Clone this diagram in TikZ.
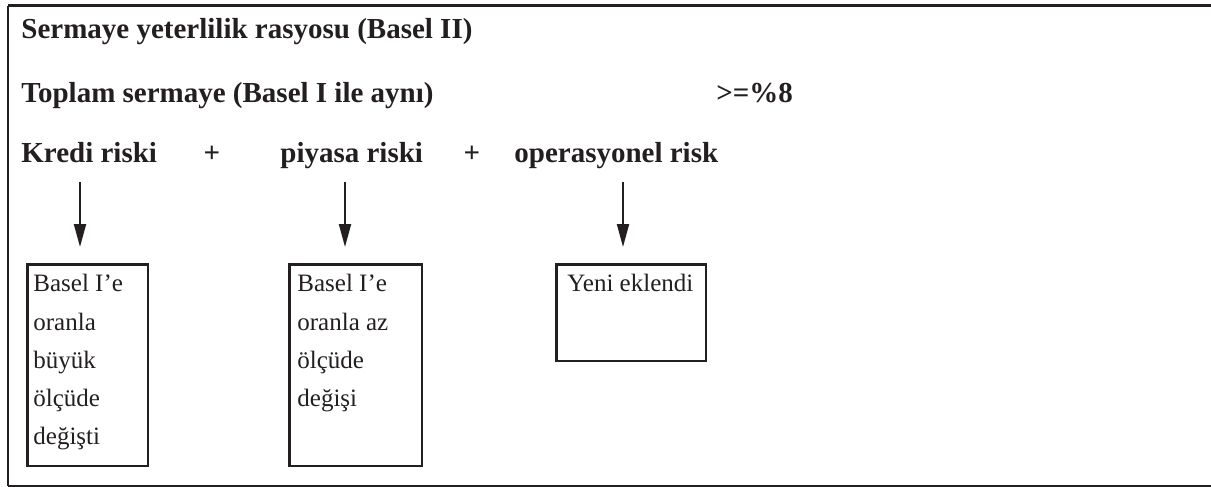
\documentclass[tikz,border=0pt]{standalone}
\usepackage{fontspec}
\setmainfont{Liberation Serif}
\usetikzlibrary{arrows.meta}
\definecolor{ink}{HTML}{231F20}
\begin{document}
\begin{tikzpicture}[x=0.5pt,y=-0.5pt,
  head/.style={font=\fontsize{14.5}{17}\selectfont\bfseries, text=ink, inner sep=0, anchor=base west},
  boxtext/.style={font=\fontsize{12.5}{19.15}\selectfont, text=ink, inner sep=0, anchor=base west, align=left},
  panel/.style={draw=ink, line width=1.25pt, inner sep=0, anchor=north west},
  arr/.style={draw=ink, line width=1pt, -{Triangle[length=11.5pt,width=6pt]}}]
\useasboundingbox (0,0) rectangle (1211,487);
% outer frame (open on the right)
\coordinate (ftr) at (1211,5.5);
\coordinate (ftl) at (8,5.5);
\coordinate (fbl) at (8,486);
\coordinate (fbr) at (1211,486);
\draw[ink, line width=1.5pt] (ftr) -- (ftl);
\draw[ink, line width=1pt] (ftl) -- (fbl);
\draw[ink, line width=0.75pt] (fbl) -- (fbr);
% header lines
\node[head] (title) at (21,39) {Sermaye yeterlilik rasyosu (Basel II)};
\node[head] (total) at (21,102) {Toplam sermaye (Basel I ile aynı)};
\node[head] (ratio) at (716,102) {>=\%8};
\node[head] (kredi) at (21,162) {Kredi riski};
\node[head, anchor=base] (plus1) at (212,162) {+};
\node[head] (piyasa) at (280,162) {piyasa riski};
\node[head, anchor=base] (plus2) at (472,162) {+};
\node[head] (opr) at (514,162) {operasyonel risk};
% boxes
\node[panel, minimum width=60.3pt, minimum height=100.8pt] (b1) at (26.2,263.2) {};
\node[panel, minimum width=66.3pt, minimum height=100.8pt] (b2) at (288.2,263.2) {};
\node[panel, minimum width=74.8pt, minimum height=48.3pt] (b3) at (555.2,263.2) {};
% box texts (anchored at the baseline of their last line)
\node[boxtext] (t1) at (33,444.9) {Basel I’e\\oranla\\büyük\\ölçüde\\değişti};
\node[boxtext] (t2) at (297,406.6) {Basel I’e\\oranla az\\ölçüde\\değişi};
\node[boxtext] (t3) at (567,291.7) {Yeni eklendi};
% arrows
\coordinate (a1s) at (80,182);  \coordinate (a1e) at (80,247);
\coordinate (a2s) at (345,182); \coordinate (a2e) at (345,247);
\coordinate (a3s) at (623,182); \coordinate (a3e) at (623,247);
\draw[arr] (a1s) -- (a1e);
\draw[arr] (a2s) -- (a2e);
\draw[arr] (a3s) -- (a3e);
\end{tikzpicture}
\end{document}
